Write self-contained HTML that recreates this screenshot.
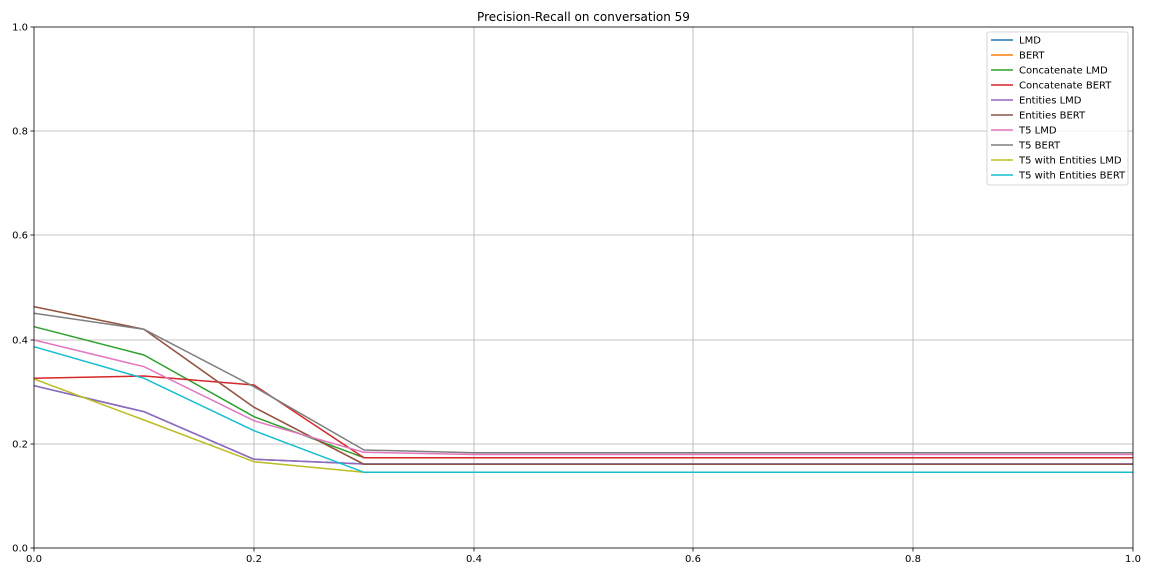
<!DOCTYPE html>
<html><head><meta charset="utf-8"><style>html,body{margin:0;padding:0;background:#fff}svg{display:block}text{font-family:"DejaVu Sans","Liberation Sans",sans-serif;font-size:10px;fill:#000}</style></head>
<body>
<svg width="1152" height="576" viewBox="0 0 1152 576" xmlns="http://www.w3.org/2000/svg">
<rect width="1152" height="576" fill="#fff"/>
<g stroke="#b0b0b0" stroke-width="0.8">
<line x1="254" y1="27" x2="254" y2="548"/><line x1="474" y1="27" x2="474" y2="548"/><line x1="693" y1="27" x2="693" y2="548"/><line x1="913" y1="27" x2="913" y2="548"/>
<line x1="34" y1="444" x2="1133" y2="444"/><line x1="34" y1="340" x2="1133" y2="340"/><line x1="34" y1="235" x2="1133" y2="235"/><line x1="34" y1="131" x2="1133" y2="131"/>
</g>
<g fill="none" stroke-width="1.5" stroke-linejoin="round">
<polyline stroke="#1f77b4" points="34,385.7 144,411.7 254,459.3 364,464 1133,464"/>
<polyline stroke="#ff7f0e" points="34,306.7 144,329.3 254,407.3 364,464.3 1133,464.3"/>
<polyline stroke="#2ca02c" points="34,326.7 144,355 254,416.7 364,457.7 1133,457.7"/>
<polyline stroke="#d62728" points="34,378.3 144,376 254,385 364,457.7 1133,457.7"/>
<polyline stroke="#9467bd" points="34,385.7 144,411.7 254,459.3 364,464 1133,464"/>
<polyline stroke="#8c564b" points="34,306.7 144,329.3 254,407.3 364,464.3 1133,464.3"/>
<polyline stroke="#e377c2" points="34,340 144,366.7 254,420.7 364,452.3 474,454.5 1133,454.5"/>
<polyline stroke="#7f7f7f" points="34,313.3 144,329.3 254,386.7 364,450 474,452.7 1133,452.7"/>
<polyline stroke="#bcbd22" points="34,379 144,420 254,461.7 364,472.3 1133,472.3"/>
<polyline stroke="#17becf" points="34,346.7 144,378.3 254,430.7 364,472.3 1133,472.3"/>
</g>
<rect x="34" y="27" width="1099" height="521" fill="none" stroke="#000" stroke-width="0.8"/>
<g stroke="#000" stroke-width="0.8">
<line x1="34" y1="548" x2="34" y2="551.5"/><line x1="254" y1="548" x2="254" y2="551.5"/><line x1="474" y1="548" x2="474" y2="551.5"/><line x1="693" y1="548" x2="693" y2="551.5"/><line x1="913" y1="548" x2="913" y2="551.5"/><line x1="1133" y1="548" x2="1133" y2="551.5"/>
<line x1="30.5" y1="548" x2="34" y2="548"/><line x1="30.5" y1="444" x2="34" y2="444"/><line x1="30.5" y1="340" x2="34" y2="340"/><line x1="30.5" y1="235" x2="34" y2="235"/><line x1="30.5" y1="131" x2="34" y2="131"/><line x1="30.5" y1="27" x2="34" y2="27"/>
</g>
<g text-anchor="middle">
<text x="34" y="562">0.0</text><text x="254" y="562">0.2</text><text x="474" y="562">0.4</text><text x="693" y="562">0.6</text><text x="913" y="562">0.8</text><text x="1133" y="562">1.0</text>
</g>
<g text-anchor="end">
<text x="28" y="551.5">0.0</text><text x="28" y="447.5">0.2</text><text x="28" y="343.5">0.4</text><text x="28" y="238.5">0.6</text><text x="28" y="134.5">0.8</text><text x="28" y="30.5">1.0</text>
</g>
<text x="583.5" y="21" text-anchor="middle" style="font-size:12px">Precision-Recall on conversation 59</text>
<rect x="987" y="32" width="141" height="153" rx="2" fill="#fff" fill-opacity="0.8" stroke="#ccc" stroke-width="0.8"/>
<g stroke-width="1.5">
<line x1="991" y1="40" x2="1013" y2="40" stroke="#1f77b4"/>
<line x1="991" y1="55" x2="1013" y2="55" stroke="#ff7f0e"/>
<line x1="991" y1="70" x2="1013" y2="70" stroke="#2ca02c"/>
<line x1="991" y1="85" x2="1013" y2="85" stroke="#d62728"/>
<line x1="991" y1="100" x2="1013" y2="100" stroke="#9467bd"/>
<line x1="991" y1="115" x2="1013" y2="115" stroke="#8c564b"/>
<line x1="991" y1="130" x2="1013" y2="130" stroke="#e377c2"/>
<line x1="991" y1="145" x2="1013" y2="145" stroke="#7f7f7f"/>
<line x1="991" y1="160" x2="1013" y2="160" stroke="#bcbd22"/>
<line x1="991" y1="175" x2="1013" y2="175" stroke="#17becf"/>
</g>
<g>
<text x="1019" y="43.5">LMD</text><text x="1019" y="58.5">BERT</text><text x="1019" y="73.5">Concatenate LMD</text><text x="1019" y="88.5">Concatenate BERT</text><text x="1019" y="103.5">Entities LMD</text><text x="1019" y="118.5">Entities BERT</text><text x="1019" y="133.5">T5 LMD</text><text x="1019" y="148.5">T5 BERT</text><text x="1019" y="163.5">T5 with Entities LMD</text><text x="1019" y="178.5">T5 with Entities BERT</text>
</g>
</svg>
</body></html>
